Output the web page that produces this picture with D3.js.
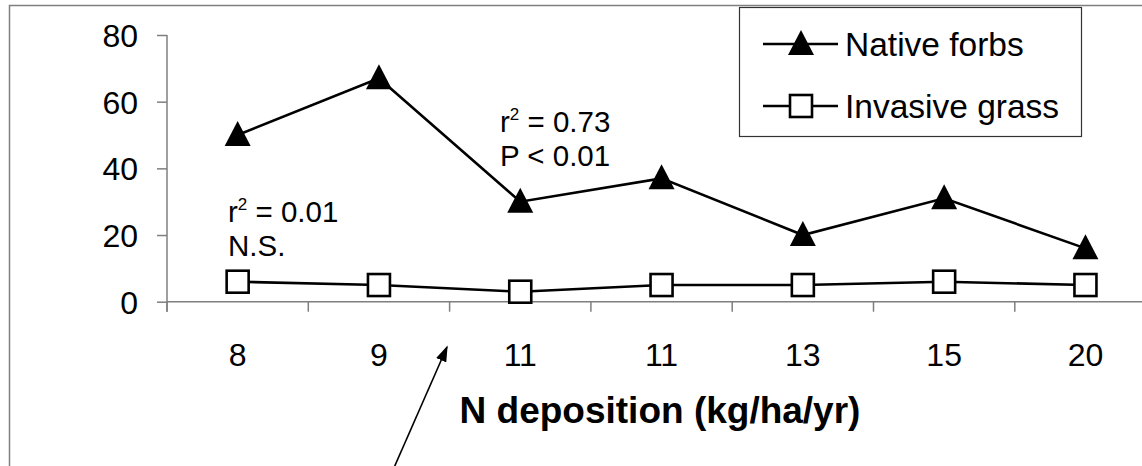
<!DOCTYPE html>
<html>
<head>
<meta charset="utf-8">
<script src="https://cdn.jsdelivr.net/npm/d3@7"></script>
<style>
  html, body { margin: 0; padding: 0; background: #fff; }
  svg { display: block; font-family: "Liberation Sans", Arial, sans-serif; }
</style>
</head>
<body>
<svg id="chart" width="1142" height="466"></svg>
<script>
// N deposition sites (kg/ha/yr), in plotting order
const depositionLabels = ["8", "9", "11", "11", "13", "15", "20"];
// Cover values per site
const nativeForbs = [50, 67, 30, 37, 20, 31, 16];
const invasiveGrass = [6, 5, 3, 5, 5, 6, 5];
const yTicks = [0, 20, 40, 60, 80];
const seriesNames = ["Native forbs", "Invasive grass"];
const statsForbs = ["r\u00b2 = 0.73", "P < 0.01"];
const statsGrass = ["r\u00b2 = 0.01", "N.S."];

(function draw() {
  const svg = d3.select("#chart");
  const W = 1142, H = 466;
  const plotLeft = 167, plotTop = 35, plotBottom = 301.7, step = 141.3;
  const idx = d3.range(depositionLabels.length);

  const x = d3.scaleBand().domain(idx).range([plotLeft, plotLeft + step * idx.length]).padding(0);
  const y = d3.scaleLinear().domain([0, 80]).range([plotBottom, plotTop]);
  const cx = i => x(i) + x.bandwidth() / 2;

  // outer chart frame
  svg.append("rect").attr("x", 9.5).attr("y", 5.5).attr("width", W + 20).attr("height", H + 20)
    .attr("fill", "#fff").attr("stroke", "#7f7f7f").attr("stroke-width", 1.5);

  // y axis
  const yAxis = svg.append("g").attr("transform", `translate(${plotLeft},0)`)
    .call(d3.axisLeft(y).tickValues(yTicks).tickSize(10).tickPadding(19));
  yAxis.select(".domain").attr("stroke", "#7f7f7f").attr("stroke-width", 1.5)
    .attr("d", `M0,${plotTop}V${plotBottom + 10}`);
  yAxis.selectAll(".tick line").attr("stroke", "#7f7f7f").attr("stroke-width", 1.5);
  yAxis.selectAll(".tick text").attr("font-size", 32).attr("fill", "#000")
    .attr("font-family", "Liberation Sans, Arial, sans-serif").attr("dy", "0.36em");

  // x axis: ticks sit on category boundaries
  const bounds = d3.range(idx.length + 1).map(k => plotLeft + k * step);
  const xAxisG = svg.append("g");
  xAxisG.append("line").attr("x1", plotLeft).attr("x2", plotLeft + step * idx.length)
    .attr("y1", plotBottom).attr("y2", plotBottom).attr("stroke", "#7f7f7f").attr("stroke-width", 1.5);
  xAxisG.selectAll("line.tk").data(bounds).join("line").attr("class", "tk")
    .attr("x1", d => d).attr("x2", d => d).attr("y1", plotBottom).attr("y2", plotBottom + 10)
    .attr("stroke", "#7f7f7f").attr("stroke-width", 1.5);
  xAxisG.selectAll("text").data(idx).join("text")
    .attr("x", cx).attr("y", 354).attr("dy", "0.36em").attr("text-anchor", "middle")
    .attr("font-size", 32).text(i => depositionLabels[i]);

  // axis title
  svg.append("text").attr("x", 660).attr("y", 410).attr("dy", "0.36em")
    .attr("text-anchor", "middle").attr("font-size", 37).attr("font-weight", "bold")
    .text("N deposition (kg/ha/yr)");

  // series lines
  const line = d3.line().x((d, i) => cx(i)).y(d => y(d));
  svg.append("path").datum(nativeForbs).attr("d", line)
    .attr("fill", "none").attr("stroke", "#000").attr("stroke-width", 2.6);
  svg.append("path").datum(invasiveGrass).attr("d", line)
    .attr("fill", "none").attr("stroke", "#000").attr("stroke-width", 2.6);

  const triPath = (px, py) => `M${px},${py - 14}L${px + 13},${py + 11}L${px - 13},${py + 11}Z`;
  svg.selectAll("path.tri").data(nativeForbs).join("path").attr("class", "tri")
    .attr("d", (d, i) => triPath(cx(i), y(d))).attr("fill", "#000");
  svg.selectAll("rect.sq").data(invasiveGrass).join("rect").attr("class", "sq")
    .attr("x", (d, i) => cx(i) - 11).attr("y", d => y(d) - 11)
    .attr("width", 22).attr("height", 22)
    .attr("fill", "#fff").attr("stroke", "#000").attr("stroke-width", 2.6);

  // regression statistics
  function stats(lines, px, py) {
    lines.forEach((s, k) => {
      const t = svg.append("text").attr("x", px).attr("y", py + k * 34).attr("font-size", 29.5);
      if (s.startsWith("r\u00b2")) {
        t.append("tspan").text("r");
        t.append("tspan").attr("font-size", 17).attr("dy", -12).text("2");
        t.append("tspan").attr("dy", 12).text(s.slice(2));
      } else {
        t.text(s);
      }
    });
  }
  stats(statsGrass, 228, 222);
  stats(statsForbs, 500, 132);

  // legend
  svg.append("rect").attr("x", 739.5).attr("y", 7.5).attr("width", 342).attr("height", 129)
    .attr("fill", "#fff").attr("stroke", "#333").attr("stroke-width", 1.2);
  const legY = [44, 106];
  seriesNames.forEach((name, k) => {
    const ly = legY[k];
    svg.append("line").attr("x1", 763).attr("x2", 838).attr("y1", ly).attr("y2", ly)
      .attr("stroke", "#000").attr("stroke-width", 2.6);
    if (k === 0) {
      svg.append("path").attr("d", triPath(801, ly)).attr("fill", "#000");
    } else {
      svg.append("rect").attr("x", 790).attr("y", ly - 11).attr("width", 22).attr("height", 22)
        .attr("fill", "#fff").attr("stroke", "#000").attr("stroke-width", 2.6);
    }
    svg.append("text").attr("x", 845).attr("y", ly).attr("dy", "0.36em")
      .attr("font-size", 33.5).text(name);
  });

  // pointer arrow
  svg.append("defs").append("marker").attr("id", "head")
    .attr("viewBox", "0 0 10 10").attr("refX", 9).attr("refY", 5)
    .attr("markerWidth", 16).attr("markerHeight", 11).attr("orient", "auto")
    .attr("markerUnits", "userSpaceOnUse").attr("preserveAspectRatio", "none")
    .append("path").attr("d", "M0,0L10,5L0,10Z").attr("fill", "#000");
  svg.append("line").attr("x1", 393).attr("y1", 470).attr("x2", 447).attr("y2", 347)
    .attr("stroke", "#000").attr("stroke-width", 1.6).attr("marker-end", "url(#head)");
})();
</script>
</body>
</html>
